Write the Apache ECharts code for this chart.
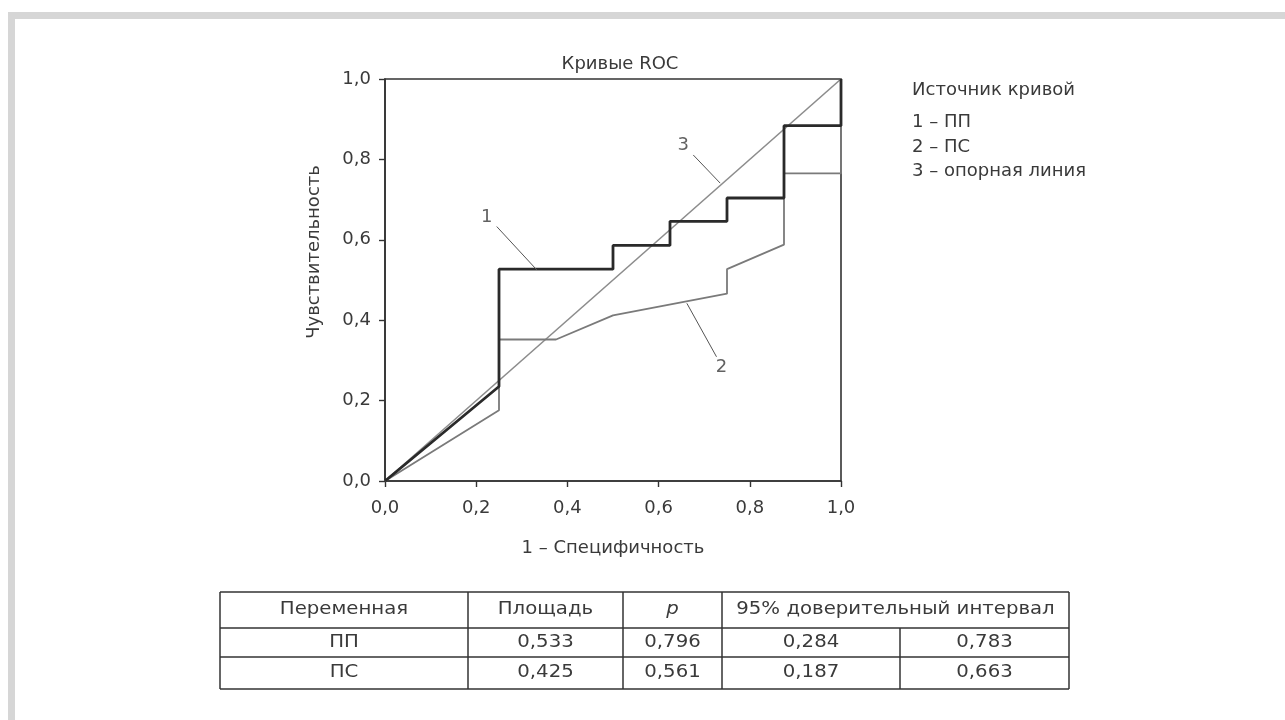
<!DOCTYPE html>
<html>
<head>
<meta charset="utf-8">
<script src="https://cdn.jsdelivr.net/npm/echarts@6/dist/echarts.min.js"></script>
<style>
html,body{margin:0;padding:0;background:#fff;}
#chart{width:1285px;height:720px;}
</style>
</head>
<body>
<div id="chart"></div>
<script>
// ---- data ----
const chartTitle = 'Кривые ROC';
const xAxisName = '1 – Специфичность';
const yAxisName = 'Чувствительность';
const seriesNames = ['ПП', 'ПС', 'опорная линия'];
const curvePP = [[0,0],[0.25,0.235],[0.25,0.527],[0.5,0.527],[0.5,0.586],[0.625,0.586],[0.625,0.646],[0.75,0.646],[0.75,0.704],[0.875,0.704],[0.875,0.884],[1,0.884],[1,1]];
const curvePS = [[0,0],[0.25,0.176],[0.25,0.352],[0.375,0.352],[0.5,0.412],[0.75,0.466],[0.75,0.527],[0.875,0.588],[0.875,0.765],[1,0.765],[1,1]];
const referenceLine = [[0,0],[1,1]];
const curveLabels = [[0.223,0.657,'1'],[0.738,0.283,'2'],[0.654,0.835,'3']];
const leaderLines = [
  [[0.245,0.633],[0.333,0.525]],
  [[0.727,0.309],[0.662,0.442]],
  [[0.676,0.811],[0.735,0.741]]
];
const legendTitle = 'Источник кривой';
const legendItems = ['1 – ПП', '2 – ПС', '3 – опорная линия'];
const tableHeader = ['Переменная', 'Площадь', 'p', '95% доверительный интервал'];
const tableRows = [
  ['ПП', '0,533', '0,796', '0,284', '0,783'],
  ['ПС', '0,425', '0,561', '0,187', '0,663']
];

// ---- layout ----
const FONT = 'DejaVu Sans';
const TXT = '#3a3a3a';
const grid = {left: 385, top: 79, width: 456, height: 402};
const colEdges = [220, 468, 623, 722, 900, 1069];
const rowEdges = [592, 628, 657, 689];

const chart = echarts.init(document.getElementById('chart'), null, {renderer: 'canvas'});

const graphics = [];
// gray frame bands
graphics.push({type:'rect', shape:{x:8, y:12, width:1277, height:7}, style:{fill:'#d6d6d6'}, silent:true});
graphics.push({type:'rect', shape:{x:8, y:12, width:7, height:708}, style:{fill:'#d6d6d6'}, silent:true});

// legend text
graphics.push({type:'text', x:912, y:91, scaleX:1.06, style:{text:legendTitle, font:'17px ' + FONT, fill:TXT, align:'left', verticalAlign:'middle'}});
const legendY = [123, 148, 172];
legendItems.forEach((t, i) => {
  graphics.push({type:'text', x:912, y:legendY[i], scaleX:1.06, style:{text:t, font:'17px ' + FONT, fill:TXT, align:'left', verticalAlign:'middle'}});
});

// table
const lineStyle = {stroke:'#333', lineWidth:1.5};
const L = colEdges[0], R = colEdges[colEdges.length-1];
rowEdges.forEach(y => graphics.push({type:'line', shape:{x1:L, y1:y, x2:R, y2:y}, style:lineStyle}));
colEdges.forEach((x, i) => {
  const y1 = (i === 4) ? rowEdges[1] : rowEdges[0];
  graphics.push({type:'line', shape:{x1:x, y1:y1, x2:x, y2:rowEdges[3]}, style:lineStyle});
});
const headerSpans = [[0,1],[1,2],[2,3],[3,5]];
tableHeader.forEach((h, i) => {
  const cx = (colEdges[headerSpans[i][0]] + colEdges[headerSpans[i][1]]) / 2;
  graphics.push({type:'text', x:cx, y:(rowEdges[0]+rowEdges[1])/2, scaleX:1.16, style:{text:h, font:(i===2?'italic ':'') + '17px ' + FONT, fill:TXT, align:'center', verticalAlign:'middle'}});
});
tableRows.forEach((row, r) => {
  row.forEach((v, c) => {
    const cx = (colEdges[c] + colEdges[c+1]) / 2;
    const cy = (rowEdges[r+1] + rowEdges[r+2]) / 2;
    graphics.push({type:'text', x:cx, y:cy, scaleX:1.16, style:{text:v, font:'17px ' + FONT, fill:TXT, align:'center', verticalAlign:'middle'}});
  });
});

const fmt = v => v.toFixed(1).replace('.', ',');

const series = [
  {name: seriesNames[2], type:'line', data: referenceLine, symbol:'none', lineStyle:{color:'#8c8c8c', width:1.6}, z:2, silent:true},
  {name: seriesNames[1], type:'line', data: curvePS, symbol:'none', lineStyle:{color:'#7a7a7a', width:1.8}, z:3, silent:true},
  {name: seriesNames[0], type:'line', data: curvePP, symbol:'none', lineStyle:{color:'#2a2a2a', width:2.8}, z:4, silent:true}
];
leaderLines.forEach(seg => {
  series.push({type:'line', data: seg, symbol:'none', lineStyle:{color:'#555', width:1}, z:5, silent:true});
});
series.push({
  type:'scatter', data: curveLabels, symbolSize:1, itemStyle:{color:'rgba(0,0,0,0)'}, z:6, silent:true,
  label:{show:true, position:'inside', formatter: p => p.data[2], fontFamily:FONT, fontSize:18, color:TXT}
});

chart.setOption({
  animation:false,
  backgroundColor:'#ffffff',
  title:{text:chartTitle, left:615, top:50, textAlign:'center', textStyle:{fontFamily:FONT, fontSize:18, fontWeight:'normal', color:TXT}},
  grid:{left:grid.left, top:grid.top, width:grid.width, height:grid.height, show:true, borderColor:'#333', borderWidth:1.6, backgroundColor:'transparent'},
  xAxis:{
    type:'value', min:0, max:1, interval:0.2,
    name:xAxisName, nameLocation:'middle', nameGap:58,
    nameTextStyle:{fontFamily:FONT, fontSize:18, color:TXT},
    axisLine:{show:true, lineStyle:{color:'#333', width:1.6}},
    axisTick:{show:true, inside:false, length:6, lineStyle:{color:'#333', width:1.4}},
    axisLabel:{formatter: fmt, margin:18, fontFamily:FONT, fontSize:18, color:TXT},
    splitLine:{show:false}
  },
  yAxis:{
    type:'value', min:0, max:1, interval:0.2,
    name:yAxisName, nameLocation:'middle', nameGap:62, nameRotate:90,
    nameTextStyle:{fontFamily:FONT, fontSize:18, color:TXT, padding:[0,0,0,56]},
    axisLine:{show:true, lineStyle:{color:'#333', width:1.6}},
    axisTick:{show:true, inside:false, length:6, lineStyle:{color:'#333', width:1.4}},
    axisLabel:{formatter: fmt, margin:14, fontFamily:FONT, fontSize:18, color:TXT},
    splitLine:{show:false}
  },
  graphic: graphics,
  series: series
});
</script>
</body>
</html>
